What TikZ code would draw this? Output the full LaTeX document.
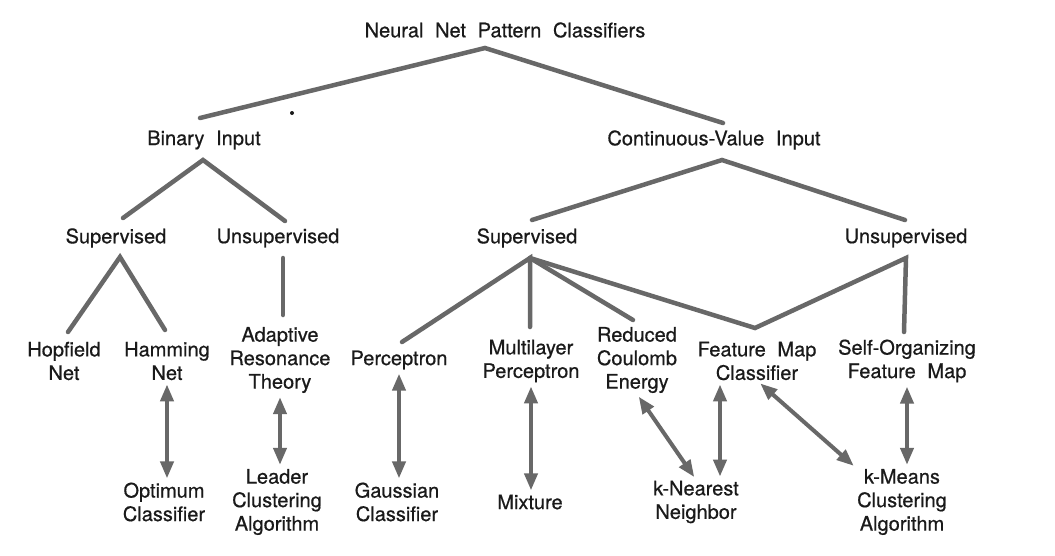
\documentclass[tikz,border=0pt]{standalone}
\usepackage{fontspec}
\setmainfont{TeX Gyre Heros}[WordSpace=2.1,FakeBold=0.6]
\usetikzlibrary{arrows.meta}
\definecolor{linegray}{HTML}{686868}
\definecolor{txt}{HTML}{1a1a1a}
\begin{document}
\begin{tikzpicture}[x=1pt,y=-1pt,
  lbl/.style={font=\fontsize{20}{23.5}\selectfont, text=txt, align=center, inner sep=1pt},
  branch/.style={draw=linegray, line width=4.5pt, line cap=round, line join=miter},
  dbl/.style={draw=linegray, line width=4pt, shorten <=3pt, shorten >=3pt,
    {Triangle[length=17pt,width=13pt]}-{Triangle[length=17pt,width=13pt]}}]
\useasboundingbox[fill=white] (0,0) rectangle (1055,555);
% nodes
\node[lbl] (root) at (505,30) {Neural Net Pattern Classifiers};
\node[lbl] (bin) at (204,140) {Binary Input};
\node[lbl] (cont) at (714,140) {Continuous-Value Input};
\node[lbl] (bsup) at (116,238) {Supervised};
\node[lbl] (buns) at (278,238) {Unsupervised};
\node[lbl] (csup) at (527,238) {Supervised};
\node[lbl] (cuns) at (906,238) {Unsupervised};
\node[lbl] (hop) at (64,361) {Hopfield\\Net};
\node[lbl] (ham) at (167,361) {Hamming\\Net};
\node[lbl] (art) at (280,360) {Adaptive\\Resonance\\Theory};
\node[lbl] (per) at (399,360) {Perceptron};
\node[lbl] (mlp) at (531,361) {Multilayer\\Perceptron};
\node[lbl] (rce) at (637,360) {Reduced\\Coulomb\\Energy};
\node[lbl] (fmc) at (757,361) {Feature Map\\Classifier};
\node[lbl] (som) at (907,361) {Self-Organizing\\Feature Map};
\node[lbl] (opt) at (164,502) {Optimum\\Classifier};
\node[lbl] (lca) at (277,502) {Leader\\Clustering\\Algorithm};
\node[lbl] (gau) at (397,502) {Gaussian\\Classifier};
\node[lbl] (mix) at (530,502) {Mixture};
\node[lbl] (knn) at (696,502) {k-Nearest\\Neighbor};
\node[lbl] (kmc) at (902,502) {k-Means\\Clustering\\Algorithm};
% junction coordinates
\coordinate (j0) at (485,48);
\coordinate (j0l) at (200,118);
\coordinate (j0r) at (723,123);
\coordinate (j1) at (203,160);
\coordinate (j1l) at (123,218);
\coordinate (j1r) at (285,221);
\coordinate (j2) at (722,160);
\coordinate (j2l) at (532,220);
\coordinate (j2r) at (905,220);
\coordinate (j3) at (120,257);
\coordinate (j3l) at (68,332);
\coordinate (j3r) at (165,330);
\coordinate (j4) at (283,258);
\coordinate (j4b) at (283,315);
\coordinate (j5) at (530,258);
\coordinate (j5a) at (402,342);
\coordinate (j5b) at (530,327);
\coordinate (j5c) at (633,320);
\coordinate (j7) at (755,328);
\coordinate (j6) at (906,258);
\coordinate (j6b) at (904,332);
% branches
\draw[branch] (j0l) -- (j0) -- (j0r);
\draw[branch] (j1l) -- (j1) -- (j1r);
\draw[branch] (j2l) -- (j2) -- (j2r);
\draw[branch] (j3l) -- (j3) -- (j3r);
\draw[branch] (j4) -- (j4b);
\draw[branch] (j5a) -- (j5) -- (j5b);
\draw[branch] (j5) -- (j5c);
\draw[branch] (j5) -- (j7) -- (j6) -- (j6b);
% double arrows
\draw[dbl] (ham.south) -- (ham.south |- opt.north);
\draw[dbl] (art.south) -- (art.south |- lca.north);
\draw[dbl] (per.south) -- (per.south |- gau.north);
\draw[dbl] (mlp.south) -- (mlp.south |- mix.north);
\draw[dbl] (rce.south) -- (knn.north);
\draw[dbl] ([xshift=-37pt]fmc.south) -- ([xshift=24pt]knn.north);
\draw[dbl] ([xshift=1pt]fmc.south) -- (kmc.north west);
\draw[dbl] (som.south) -- (som.south |- kmc.north);
\fill[txt] (292,113) circle (2pt);
\end{tikzpicture}
\end{document}
